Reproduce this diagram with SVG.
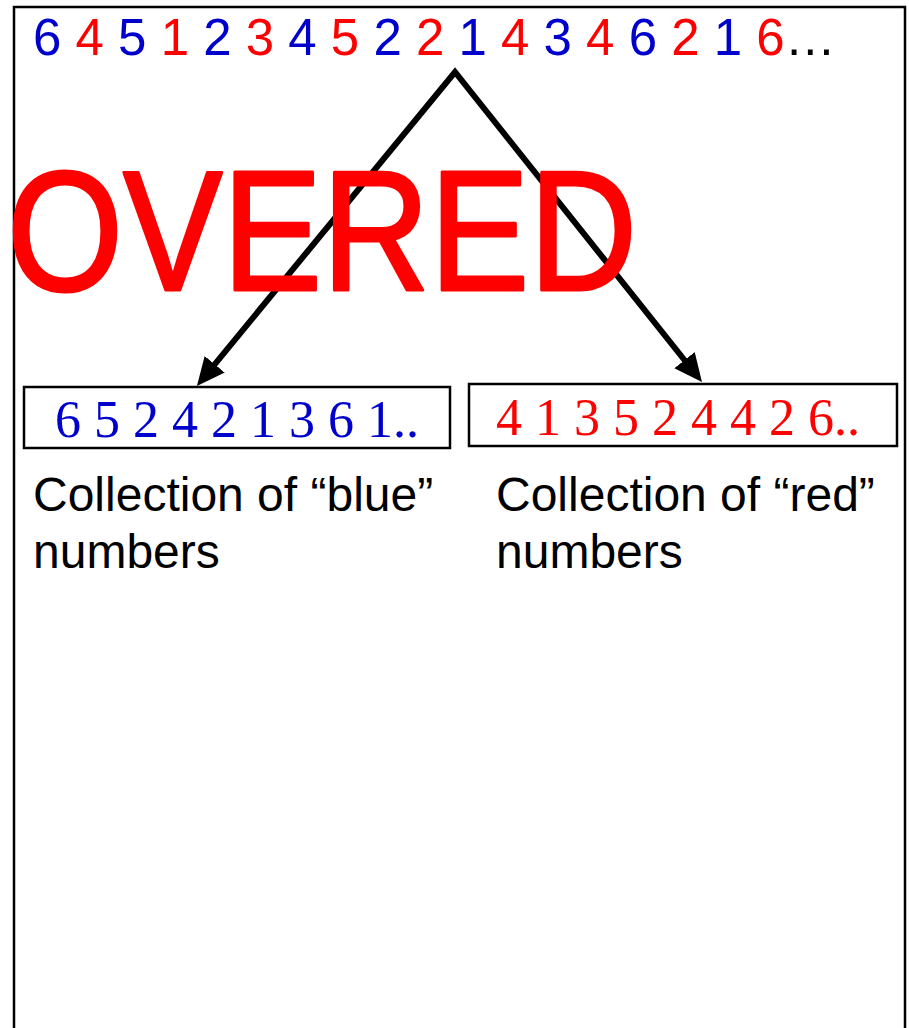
<svg xmlns="http://www.w3.org/2000/svg" width="909" height="1028" viewBox="0 0 909 1028">
<style>
.b{fill:#0000CC}
.r{fill:#FF0000}
.k{fill:#000000}
.seq{font-family:"Liberation Sans",Arial,sans-serif;font-size:51px}
.box{fill:#FFFFFF;stroke:#000000;stroke-width:2.5}
.num{font-family:"Liberation Serif","Times New Roman",serif;font-size:52px}
.lbl{font-family:"Liberation Sans",Arial,sans-serif;font-size:48px;fill:#000000}
.conn{fill:none;stroke:#000000;stroke-width:6;stroke-linejoin:miter}
</style>
<defs>
<marker id="ah" markerUnits="userSpaceOnUse" markerWidth="34" markerHeight="34" viewBox="0 -17 34 34" refX="12" refY="0" orient="auto-start-reverse">
<path d="M0,-13 L28,0 L0,13 z" fill="#000000"/>
</marker>
</defs>
<rect id="frame" x="14" y="7" width="891" height="1040" fill="#FFFFFF" stroke="#000000" stroke-width="2.5"/>
<g id="sequence">
<text class="seq" x="33" y="55" xml:space="preserve"><tspan class="b">6 </tspan><tspan class="r">4 </tspan><tspan class="b">5 </tspan><tspan class="r">1 </tspan><tspan class="b">2 </tspan><tspan class="r">3 </tspan><tspan class="b">4 </tspan><tspan class="r">5 </tspan><tspan class="b">2 </tspan><tspan class="r">2 </tspan><tspan class="b">1 </tspan><tspan class="r">4 </tspan><tspan class="b">3 </tspan><tspan class="r">4 </tspan><tspan class="b">6 </tspan><tspan class="r">2 </tspan><tspan class="b">1 </tspan><tspan class="r">6</tspan><tspan class="k">…</tspan></text>
</g>
<g id="connectors">
<path class="conn" d="M207.1,373.6 L455,72 L692,369.5" marker-start="url(#ah)" marker-end="url(#ah)"/>
</g>
<g id="blue-box">
<rect class="box" x="24" y="387" width="426" height="61"/>
<text class="num b" x="55" y="437" xml:space="preserve">6 5 2 4 2 1 3 6 1..</text>
</g>
<g id="red-box">
<rect class="box" x="469" y="384" width="428" height="62"/>
<text class="num r" x="496" y="435" xml:space="preserve">4 1 3 5 2 4 4 2 6..</text>
</g>
<g id="blue-label">
<text class="lbl" x="33" y="511">Collection of “blue”</text>
<text class="lbl" x="33" y="568">numbers</text>
</g>
<g id="red-label">
<text class="lbl" x="496" y="511">Collection of “red”</text>
<text class="lbl" x="496" y="568">numbers</text>
</g>
<g id="watermark">
<text x="7" y="290" font-family="'Comic Sans MS','Liberation Sans',sans-serif" font-size="170" fill="#FF0000" stroke="#FF0000" stroke-width="3" stroke-linejoin="round" textLength="630" lengthAdjust="spacingAndGlyphs">OVERED</text>
</g>
</svg>
